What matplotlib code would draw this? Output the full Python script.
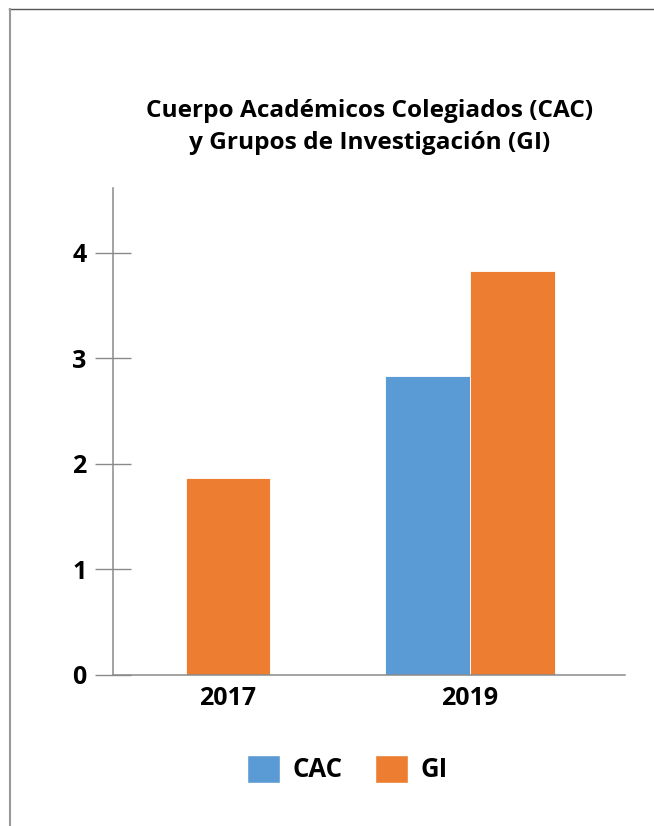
import matplotlib
matplotlib.use("Agg")
import matplotlib.pyplot as plt
from matplotlib.lines import Line2D
from matplotlib.patches import Patch

years = ["2017", "2019"]
cac = [None, 2.83]
gi = [1.87, 3.83]
series_names = ["CAC", "GI"]
colors = ["#5B9BD5", "#ED7D31"]
title = "Cuerpo Académicos Colegiados (CAC)\ny Grupos de Investigación (GI)"
yticks = [0, 1, 2, 3, 4]

plt.rcParams['font.family'] = ['Open Sans', 'DejaVu Sans']
plt.rcParams['font.weight'] = 'bold'

fig = plt.figure(figsize=(6.54, 8.26), dpi=100)
ax = fig.add_axes([113/654, 1-675/826, (625-113)/654, (675-188)/826])

w = 0.351
xs = list(range(len(years)))
for i in xs:
    has_cac = cac[i] is not None
    if has_cac:
        ax.bar(i - w/2, cac[i], width=w, color=colors[0], edgecolor='white', linewidth=0.6)
        ax.bar(i + w/2, gi[i], width=w, color=colors[1], edgecolor='white', linewidth=0.6)
    else:
        ax.bar(i, gi[i], width=w, color=colors[1], edgecolor='white', linewidth=0.6)

ax.set_xlim(-0.475, 1.64)
ax.set_ylim(0, 4.616)
ax.set_yticks(yticks)
ax.set_yticklabels([str(t) for t in yticks], fontsize=18, fontweight='bold')
ax.set_xticks(xs)
ax.set_xticklabels(years, fontsize=18, fontweight='bold')
ax.tick_params(axis='y', direction='inout', length=26, width=1.0, color='#8a8a8a', pad=6)
ax.tick_params(axis='x', length=0, pad=8)
for s in ['top', 'right']:
    ax.spines[s].set_visible(False)
for s in ['left', 'bottom']:
    ax.spines[s].set_color('#8a8a8a')
    ax.spines[s].set_linewidth(1.1)

fig.text(370/654, 1-127/826, title, ha='center', va='center', fontsize=17.6,
         fontweight='bold', linespacing=1.42)

handles = [Patch(facecolor=colors[0], edgecolor='white'), Patch(facecolor=colors[1], edgecolor='white')]
fig.legend(handles, series_names, loc='center', bbox_to_anchor=(347.5/654, 1-769/826),
           ncol=2, frameon=False, prop={'size': 18.5, 'weight': 'bold'},
           handlelength=1.29, handleheight=1.29, columnspacing=1.25, handletextpad=0.5)

fig.add_artist(Line2D([9/654, 1], [1-9/826, 1-9/826], color='#555555', linewidth=1.0))
fig.add_artist(Line2D([9.5/654, 9.5/654], [0, 1-9/826], color='#999999', linewidth=1.5))

fig.savefig("out.png", dpi=100)
